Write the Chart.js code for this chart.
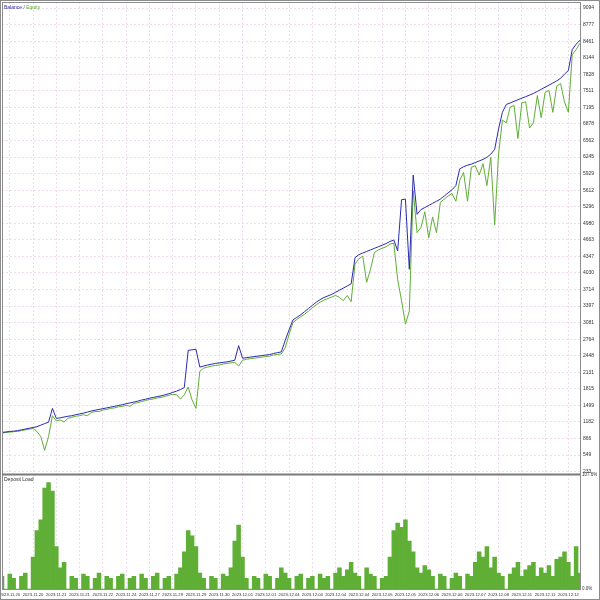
<!DOCTYPE html>
<html>
<head>
<meta charset="utf-8">
<script src="https://cdn.jsdelivr.net/npm/chart.js@4/dist/chart.umd.min.js"></script>
<style>
  html, body { margin: 0; padding: 0; background: #fff; }
  #wrap { width: 600px; height: 600px; position: relative; }
</style>
</head>
<body>
<div id="wrap"><canvas id="report" width="600" height="600"></canvas></div>
<script>
// 日付ラベル (x軸)
const dateTicks = ['2023.11.20', '2023.11.20', '2023.11.21', '2023.11.21', '2023.11.22', '2023.11.24', '2023.11.27',
  '2023.11.29', '2023.11.29', '2023.11.30', '2023.12.01', '2023.12.01', '2023.12.04', '2023.12.04', '2023.12.04',
  '2023.12.04', '2023.12.05', '2023.12.05', '2023.12.06', '2023.12.06', '2023.12.07', '2023.12.08', '2023.12.11',
  '2023.12.11', '2023.12.12'];

// 右側の目盛り
const balanceTicks = [233, 549, 866, 1182, 1499, 1815, 2131, 2448, 2764, 3081, 3397, 3714, 4030, 4347, 4663,
  4980, 5296, 5612, 5929, 6245, 6562, 6878, 7195, 7511, 7828, 8144, 8461, 8777, 9094];
const loadTicks = [0, 107.6];

// Balance
const balance = [980, 990, 1000, 1005, 1015, 1030, 1045, 1060, 1075, 1090,
  1120, 1150, 1175, 1440, 1250, 1260, 1275, 1290, 1300, 1320,
  1335, 1350, 1370, 1390, 1405, 1420, 1435, 1450, 1465, 1480,
  1495, 1510, 1530, 1545, 1560, 1580, 1600, 1615, 1635, 1650,
  1665, 1680, 1700, 1720, 1745, 1770, 1800, 1840, 2550, 2560,
  2570, 2230, 2250, 2270, 2285, 2300, 2310, 2320, 2330, 2345,
  2360, 2640, 2400, 2410, 2420, 2430, 2440, 2450, 2460, 2470,
  2490, 2505, 2520, 2740, 2940, 3130, 3180, 3230, 3290, 3350,
  3410, 3470, 3520, 3560, 3590, 3620, 3660, 3700, 3740, 3780,
  3820, 4320, 4380, 4410, 4440, 4470, 4500, 4530, 4560, 4590,
  4630, 4660, 4450, 5430, 5440, 4100, 5900, 5150, 5240, 5280,
  5320, 5360, 5400, 5440, 5500, 5560, 5620, 5700, 6020, 6060,
  6090, 6110, 6140, 6170, 6200, 6240, 6300, 6390, 6780, 7100,
  7250, 7280, 7310, 7340, 7370, 7400, 7430, 7460, 7500, 7540,
  7580, 7620, 7660, 7700, 7750, 7830, 7900, 8300, 8400, 8480];

// Equity
const equity = [970, 980, 985, 995, 1000, 1015, 1030, 1045, 1055, 1000,
  900, 640, 900, 1300, 1200, 1220, 1180, 1250, 1270, 1290,
  1300, 1320, 1300, 1360, 1380, 1380, 1410, 1420, 1440, 1450,
  1470, 1480, 1500, 1480, 1535, 1550, 1570, 1590, 1610, 1620,
  1640, 1650, 1670, 1690, 1710, 1700, 1620, 1700, 1850, 1600,
  1440, 2150, 2210, 2230, 2250, 2260, 2270, 2290, 2300, 2310,
  2320, 2250, 2360, 2380, 2390, 2400, 2410, 2420, 2430, 2440,
  2460, 2470, 2480, 2600, 2850, 3080, 3140, 3190, 3240, 3300,
  3360, 3420, 3470, 3510, 3540, 3570, 3600, 3560, 3500, 3600,
  3480, 4200, 4300, 4350, 3850, 4100, 4420, 4470, 4500, 4530,
  4580, 4600, 3900, 3500, 3050, 3300, 5600, 4800, 4900, 5200,
  4700, 5100, 4800, 5380, 5440, 5500, 5550, 5400, 5800, 5950,
  5400, 6050, 6080, 5900, 6120, 5700, 6240, 4950, 6300, 6950,
  6900, 7200, 7230, 6600, 7280, 7300, 6800, 6900, 7420, 7000,
  7480, 7520, 7100, 7600, 7650, 7300, 7100, 8200, 8300, 8420];

// Deposit Load (%)
const depositLoad = [12, 0, 14, 10, 0, 12, 15, 0, 30, 55,
  65, 95, 100, 92, 40, 20, 25, 0, 12, 10,
  0, 14, 12, 0, 10, 15, 0, 12, 10, 0,
  12, 14, 0, 10, 12, 0, 14, 10, 0, 12,
  15, 0, 10, 12, 0, 14, 20, 35, 55, 50,
  40, 15, 10, 0, 12, 10, 0, 14, 12, 20,
  45, 60, 30, 10, 0, 12, 10, 0, 14, 12,
  0, 10, 20, 15, 10, 0, 12, 14, 0, 10,
  12, 0, 14, 10, 12, 0, 15, 20, 12, 18,
  25, 15, 12, 0, 20, 14, 12, 0, 10, 12,
  30, 55, 62, 58, 65, 45, 35, 20, 15, 22,
  18, 12, 0, 14, 12, 0, 10, 15, 12, 0,
  14, 12, 25, 35, 30, 40, 20, 30, 15, 12,
  0, 14, 20, 25, 12, 18, 22, 25, 12, 20,
  15, 22, 12, 28, 30, 35, 25, 12, 40, 15];

const tickStep = 6;
const tickStart = 2;
const toPoints = arr => arr.map((v, i) => ({ x: i, y: v }));

const tinyFont = { family: 'Liberation Sans', size: 5 };
const dateFont = { family: 'Liberation Sans', size: 4.2 };
const gridColor = '#ecdcec';

// 端のラベル用の余白をなくす
function noEdgePadding(s) {
  s.paddingLeft = 0;
  s.paddingRight = 0;
  s.paddingTop = 0;
  s.paddingBottom = 0;
}

// 枠線と見出しを描くプラグイン
const framePlugin = {
  id: 'frame',
  afterDraw(chart) {
    const c = chart.ctx;
    const area = chart.chartArea;
    const top = chart.scales.y;
    c.save();
    c.strokeStyle = '#8c8c8c';
    c.lineWidth = 1;
    c.strokeRect(0.5, 0.5, chart.width - 1, chart.height - 1);
    c.strokeRect(area.left + 0.5, area.top + 0.5, area.right - area.left, area.bottom - area.top);
    // パネルの区切り
    c.lineWidth = 2;
    c.strokeStyle = '#7a7a7a';
    c.beginPath();
    c.moveTo(area.left, top.bottom);
    c.lineTo(area.right, top.bottom);
    c.stroke();

    c.font = '5px "Liberation Sans"';
    c.textBaseline = 'top';
    c.fillStyle = '#2b2ba8';
    c.fillText('Balance', area.left + 2, area.top + 3);
    const w = c.measureText('Balance ').width;
    c.fillStyle = '#444';
    c.fillText('/', area.left + 2 + w, area.top + 3);
    c.fillStyle = '#5aa832';
    c.fillText('Equity', area.left + 2 + w + c.measureText('/ ').width, area.top + 3);
    c.fillStyle = '#333';
    c.fillText('Deposit Load', area.left + 2, top.bottom + 3);
    c.restore();
  }
};

let reportChart = new Chart(document.getElementById('report'), {
  data: {
    datasets: [
      {
        type: 'line', label: 'Balance', data: toPoints(balance), yAxisID: 'y',
        borderColor: '#2b2bb0', borderWidth: 1, pointRadius: 0, tension: 0
      },
      {
        type: 'line', label: 'Equity', data: toPoints(equity), yAxisID: 'y',
        borderColor: '#5fae36', borderWidth: 1, pointRadius: 0, tension: 0
      },
      {
        type: 'bar', label: 'Deposit Load', data: toPoints(depositLoad), yAxisID: 'yLoad',
        backgroundColor: '#5fae36', borderWidth: 0, barPercentage: 1, categoryPercentage: 1
      }
    ]
  },
  options: {
    animation: false,
    responsive: false,
    layout: { padding: { left: 2, top: 2, right: 1, bottom: 0 } },
    plugins: { legend: { display: false }, tooltip: { enabled: false } },
    scales: {
      x: {
        type: 'linear', min: 0, max: balance.length - 1, offset: false,
        afterBuildTicks: s => { s.ticks = dateTicks.map((_, k) => ({ value: k * tickStep + tickStart })); },
        afterFit: s => { s.height = 11; noEdgePadding(s); },
        ticks: {
          font: dateFont, color: '#333', maxRotation: 0, autoSkip: false, padding: 3,
          callback: v => dateTicks[Math.round((v - tickStart) / tickStep)]
        },
        grid: { color: gridColor, drawTicks: false, offset: false },
        border: { color: '#8c8c8c', dash: [2, 2] }
      },
      y: {
        position: 'right', stack: 'panels', stackWeight: 4.13,
        min: 175, max: 9209,
        afterBuildTicks: s => { s.ticks = balanceTicks.map(v => ({ value: v })); },
        afterFit: s => { s.width = 19; noEdgePadding(s); },
        ticks: { font: tinyFont, color: '#333', padding: 3, autoSkip: false, callback: v => String(v) },
        grid: { color: gridColor, drawTicks: false },
        border: { color: '#8c8c8c', dash: [2, 2] }
      },
      yLoad: {
        position: 'right', stack: 'panels', stackWeight: 1,
        min: 0, max: 107.6,
        afterBuildTicks: s => { s.ticks = loadTicks.map(v => ({ value: v })); },
        afterFit: s => { s.width = 19; noEdgePadding(s); },
        ticks: { font: { family: 'Liberation Sans', size: 4.5 }, color: '#333', padding: 2, autoSkip: false,
          callback: v => v.toFixed(1) + '%' },
        grid: { display: false, drawTicks: false },
        border: { color: '#8c8c8c' }
      }
    }
  },
  plugins: [framePlugin]
});
</script>
</body>
</html>
